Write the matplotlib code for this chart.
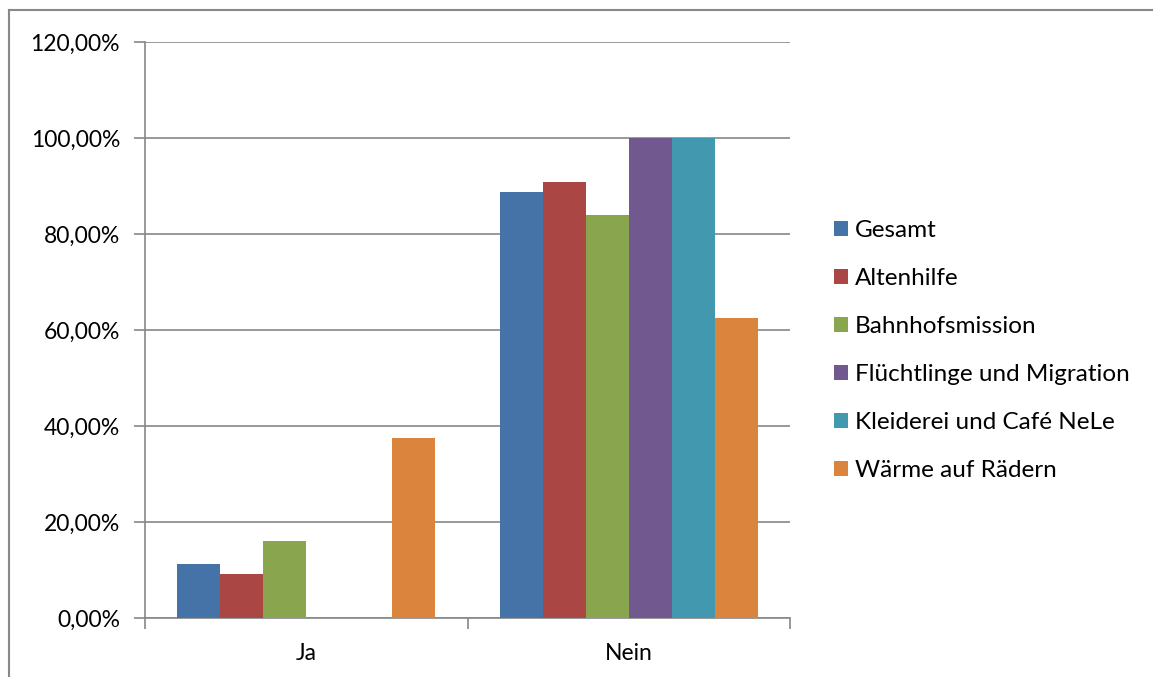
import numpy as np
import matplotlib.pyplot as plt
from matplotlib.lines import Line2D
from matplotlib.patches import Patch
from matplotlib.ticker import FuncFormatter

plt.rcParams['font.family'] = ['Lato', 'DejaVu Sans']

# Antworten je Bereich (Anteile in %)
categories = ['Ja', 'Nein']
series = ['Gesamt', 'Altenhilfe', 'Bahnhofsmission', 'Flüchtlinge und Migration',
          'Kleiderei und Café NeLe', 'Wärme auf Rädern']
gesamt = [11.2, 88.8]
altenhilfe = [9.09, 90.91]
bahnhofsmission = [16.0, 84.0]
fluechtlinge = [0.0, 100.0]
kleiderei = [0.0, 100.0]
waerme = [37.5, 62.5]
values = [gesamt, altenhilfe, bahnhofsmission, fluechtlinge, kleiderei, waerme]
colors = ['#4572A7', '#AA4643', '#89A54E', '#71588F', '#4198AF', '#DB843D']

grid_color = '#878787'
fs = 16.5

fig = plt.figure(figsize=(11.53, 6.77), dpi=100)
ax = fig.add_axes([0.1258, 0.0871, 0.5594, 0.851])

x = np.arange(len(categories))
n = len(series)
w = 1 / (n + 1.5)
for i, (name, vals, c) in enumerate(zip(series, values, colors)):
    ax.bar(x + (i - (n - 1) / 2) * w, vals, width=w, color=c, label=name, zorder=3)

ax.set_xlim(-0.5, 1.5)
ax.set_ylim(0, 120)
ax.set_yticks(np.arange(0, 121, 20))
ax.yaxis.set_major_formatter(FuncFormatter(lambda v, _: f'{v:.2f}%'.replace('.', ',')))
ax.grid(axis='y', color=grid_color, linewidth=1.2, zorder=0)

# Kategoriegrenzen als Striche, Beschriftungen mittig
ax.set_xticks([-0.5, 0.5, 1.5])
ax.set_xticklabels([])
ax.set_xticks(x, minor=True)
ax.set_xticklabels(categories, minor=True)
ax.tick_params(axis='x', which='minor', length=0, pad=18, labelsize=fs)
ax.tick_params(axis='x', which='major', length=8, color=grid_color, width=1.2)
ax.tick_params(axis='y', length=8, color=grid_color, width=1.2, labelsize=fs, pad=10)

for side in ['top', 'right']:
    ax.spines[side].set_visible(False)
for side in ['left', 'bottom']:
    ax.spines[side].set_color(grid_color)
    ax.spines[side].set_linewidth(1.2)

handles = [Patch(facecolor=c, label=s) for s, c in zip(series, colors)]
fig.legend(handles=handles, loc='center left', bbox_to_anchor=(0.7233, 0.482),
           frameon=False, fontsize=17.5, handlelength=0.58, handleheight=0.58,
           handletextpad=0.27, labelspacing=1.11, borderpad=0, borderaxespad=0)

# Rahmen oben und links
fig.add_artist(Line2D([9 / 1153, 9 / 1153], [0, 1 - 10 / 677], transform=fig.transFigure,
                      color='#888888', linewidth=1.5))
fig.add_artist(Line2D([9 / 1153, 1], [1 - 10 / 677, 1 - 10 / 677], transform=fig.transFigure,
                      color='#888888', linewidth=1.5))

fig.savefig('out.png', dpi=100)
